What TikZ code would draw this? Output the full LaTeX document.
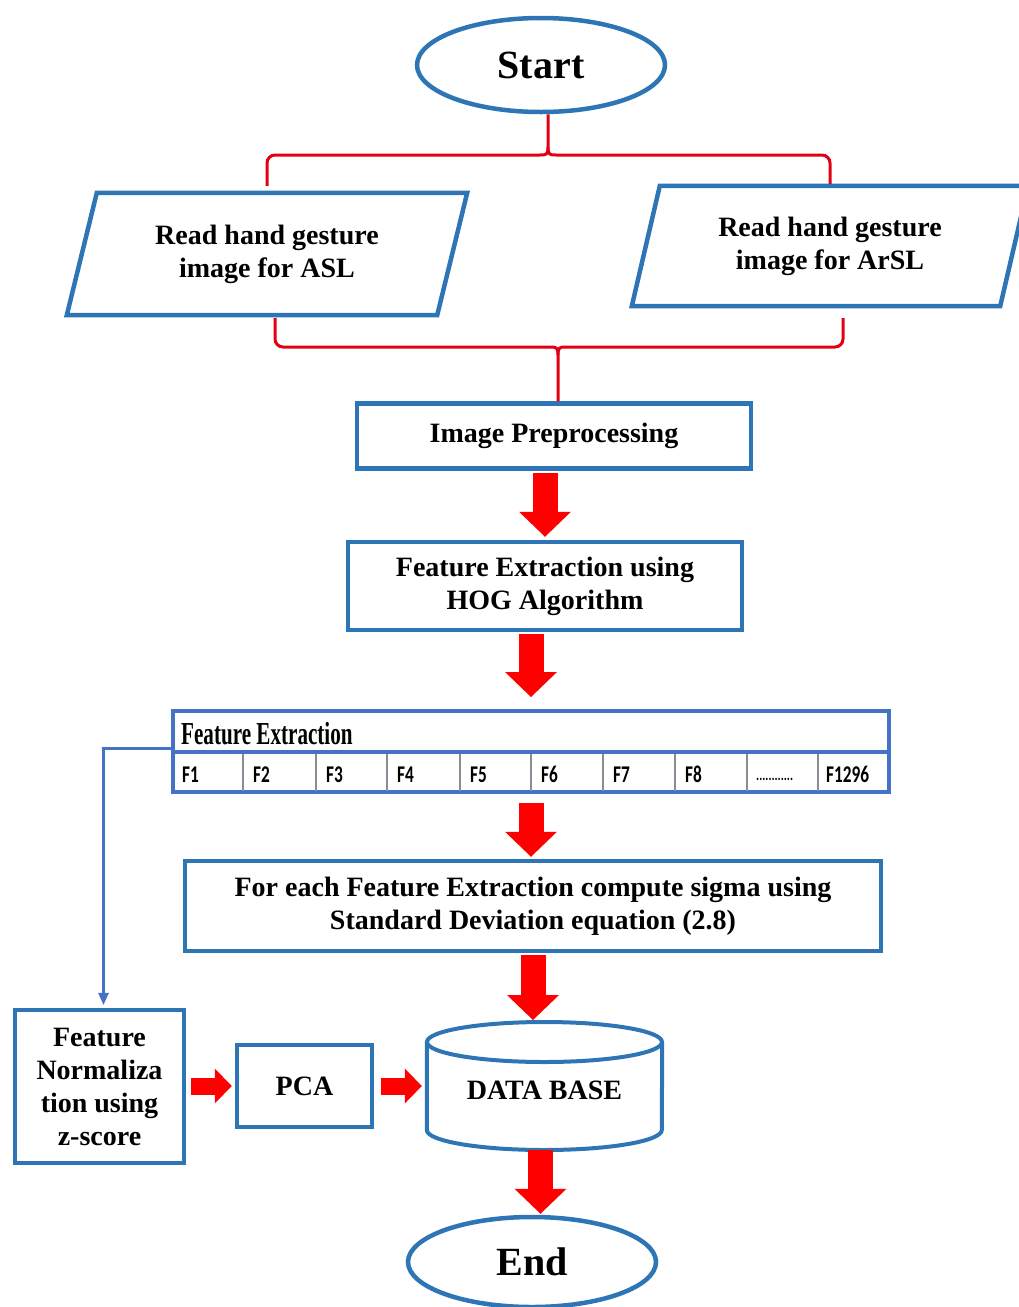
\documentclass[tikz,border=0pt]{standalone}
\usepackage{fontspec}
\setmainfont{Liberation Serif}
\newfontfamily\narrowserif[FakeStretch=0.66]{Liberation Serif}
\newfontfamily\cellsans[FakeStretch=0.72]{Carlito}
\usetikzlibrary{shapes.geometric,arrows.meta,calc}
\definecolor{boxblue}{RGB}{46,117,182}
\definecolor{tabblue}{RGB}{68,114,196}
\definecolor{flowred}{RGB}{255,0,0}
\definecolor{bracered}{RGB}{228,0,20}
\definecolor{cellgray}{RGB}{140,140,150}

\begin{document}
\begin{tikzpicture}[x=1pt,y=-1pt,
  box/.style={draw=boxblue, line width=4.5pt, fill=white, align=center,
    font=\fontsize{28}{33}\selectfont\bfseries},
  term/.style={ellipse, draw=boxblue, line width=4.5pt, inner sep=0pt,
    font=\fontsize{40}{44}\selectfont\bfseries},
  plain/.style={align=center, inner sep=0pt, font=\fontsize{28}{33}\selectfont\bfseries},
  paraline/.style={draw=boxblue, line width=4.5pt, line join=miter},
  bigarrow/.style={draw=flowred, line width=25pt,
    -{Triangle[width=52pt,length=25pt,line width=0pt]}},
  smallarrow/.style={draw=flowred, line width=17pt,
    -{Triangle[width=35pt,length=17pt,line width=0pt]}},
  brace/.style={draw=bracered, line width=3pt, rounded corners=8pt},
  cusp/.style={draw=bracered, line width=3pt},
  cell/.style={anchor=base west, inner sep=0pt, font=\cellsans\fontsize{24}{26}\selectfont\bfseries},
  ]
\useasboundingbox (0,0) rectangle (1019,1307);

% terminals
\node[term, minimum width=248pt, minimum height=94pt] (start) at (541,65) {Start};
\node[term, minimum width=248pt, minimum height=90pt] (end) at (532,1262) {End};

% input parallelograms (text nodes with slanted outlines)
\node[plain, minimum width=370pt, minimum height=122pt] (asl) at (267,254)
  {Read hand gesture\\image for ASL};
\draw[paraline] ([xshift=-15pt]asl.south west) -- ([xshift=-15pt]asl.south east)
  -- ([xshift=15pt]asl.north east) -- ([xshift=15pt]asl.north west) -- cycle;
\node[plain, minimum width=368pt, minimum height=120pt] (arsl) at (830,246)
  {Read hand gesture\\image for ArSL};
\draw[paraline] ([xshift=-14pt]arsl.south west) -- ([xshift=-14pt]arsl.south east)
  -- ([xshift=14pt]arsl.north east) -- ([xshift=14pt]arsl.north west) -- cycle;

% process boxes
\node[box, minimum width=394pt, minimum height=65pt] (pre) at (554,436) {Image Preprocessing};
\node[box, minimum width=394pt, minimum height=88pt] (hog) at (545,586)
  {Feature Extraction using\\HOG Algorithm};
\node[box, minimum width=696pt, minimum height=90pt] (sig) at (533,906)
  {For each Feature Extraction compute sigma using\\Standard Deviation equation (2.8)};
\node[box, minimum width=169pt, minimum height=153pt] (norm) at (99.5,1086.5)
  {Feature\\Normaliza\\tion using\\z-score};
\node[box, minimum width=135pt, minimum height=82pt] (pca) at (304.5,1086) {PCA};

% database cylinder
\node[plain, minimum width=235pt, minimum height=100pt] (db) at (544.5,1090) {DATA BASE};
\draw[draw=boxblue, line width=4pt]
  ([yshift=48pt]db.west) -- ([yshift=-40pt]db.west)
  arc[start angle=180, end angle=360, x radius=117.5pt, y radius=20pt]
  -- ([yshift=48pt]db.east);
\draw[draw=boxblue, line width=4pt] ([yshift=48pt]db.center) ellipse [x radius=117.5pt, y radius=20pt];

% feature table
\node[draw=tabblue, line width=4pt, minimum width=716pt, minimum height=81pt,
  inner sep=0pt] (tab) at (531,751.5) {};
\draw[tabblue, line width=3.5pt] (tab.west |- 0,752) -- (tab.east |- 0,752);
\foreach \x in {243,316,387,460,531,603,675,747,818}
  \draw[cellgray, line width=1.3pt] (\x,754) -- (\x,791);
\node[anchor=base west, inner sep=0pt,
  font=\narrowserif\fontsize{32}{35}\selectfont\bfseries] (tabhead) at (181,744) {Feature Extraction};
\foreach \n/\x/\t in {1/172/F1,2/243/F2,3/316/F3,4/387/F4,5/460/F5,6/531/F6,7/603/F7,8/675/F8}
  \node[cell] (c\n) at (\x+10,782) {\t};
\node[cell, font=\cellsans\fontsize{16}{17}\selectfont\bfseries] (c9) at (756,780) {............};
\node[cell] (c10) at (826,782) {F1296};

% branching brackets
\coordinate (tcusp) at (548,155);
\coordinate (bcusp) at (558,347);
\draw[brace] ([yshift=7pt]asl.north) |- ([xshift=-8pt]tcusp);
\draw[brace] ([yshift=2pt]arsl.north) |- ([xshift=8pt]tcusp);
\draw[cusp] ([xshift=-8pt]tcusp) .. controls ([xshift=-2pt]tcusp) and (tcusp) .. ([yshift=8pt]tcusp)
  -- ([xshift=7pt]start.south);
\draw[cusp] ([xshift=8pt]tcusp) .. controls ([xshift=2pt]tcusp) and (tcusp) .. ([yshift=8pt]tcusp);
\draw[brace] ([xshift=8pt,yshift=-3pt]asl.south) |- ([xshift=-8pt]bcusp);
\draw[brace] ([xshift=13pt,yshift=-12pt]arsl.south) |- ([xshift=8pt]bcusp);
\draw[cusp] ([xshift=-8pt]bcusp) .. controls ([xshift=-2pt]bcusp) and (bcusp) .. ([yshift=-8pt]bcusp)
  -- (bcusp |- pre.north);
\draw[cusp] ([xshift=8pt]bcusp) .. controls ([xshift=2pt]bcusp) and (bcusp) .. ([yshift=-8pt]bcusp);

% flow arrows
\draw[bigarrow, shorten <=2pt, shorten >=3pt] (hog.north |- pre.south) -- (hog.north);
\draw[bigarrow, shorten <=2pt, shorten >=12pt] (tab.north |- hog.south) -- (tab.north);
\draw[bigarrow, shorten <=9pt, shorten >=2pt] (tab.south) -- (tab.south |- sig.north);
\draw[bigarrow, shorten <=2pt, shorten >=2pt] (sig.south) -- (sig.south |- 0,1022);
\draw[bigarrow, shorten <=0pt, shorten >=1pt] ([xshift=-4pt]db.south |- 0,1150) -- ([xshift=-4pt]db.south |- end.north);
\draw[smallarrow, shorten <=5pt, shorten >=3pt] (norm.east |- pca.west) -- (pca.west);
\draw[smallarrow, shorten <=7pt, shorten >=5pt] (pca.east) -- (pca.east -| db.west);

% branch from the feature table to normalisation
\draw[tabblue, line width=3pt, -{Triangle[width=11pt,length=12pt,line width=0pt]}, shorten >=3pt]
  (tab.west |- 0,748) -| ([xshift=4pt]norm.north);
\end{tikzpicture}
\end{document}
